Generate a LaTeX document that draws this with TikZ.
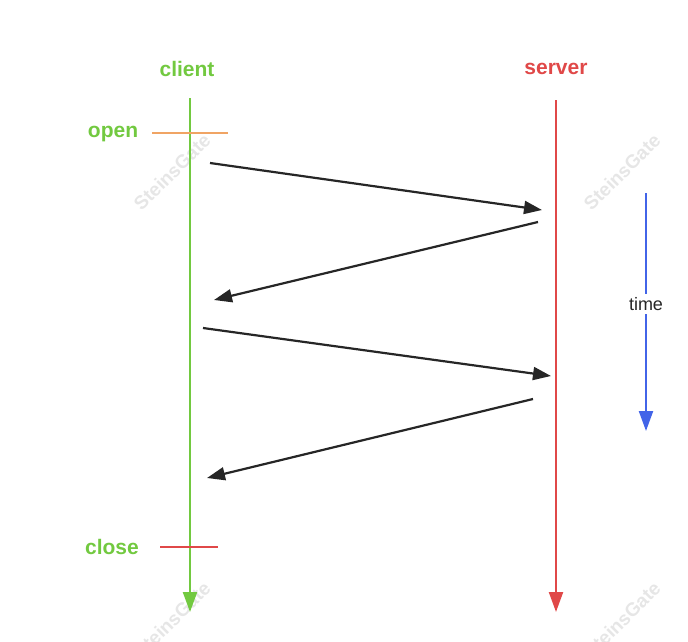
\documentclass[tikz,border=0pt]{standalone}
\usepackage{fontspec}
\setmainfont{Liberation Sans}
\usetikzlibrary{arrows.meta}
\definecolor{cgreen}{RGB}{114,201,64}
\definecolor{cred}{RGB}{224,72,72}
\definecolor{corange}{RGB}{240,164,100}
\definecolor{cblue}{RGB}{66,100,232}
\definecolor{cdark}{RGB}{38,38,38}
\definecolor{wm}{RGB}{230,230,230}
\tikzset{
  lbl/.style={font=\fontsize{21}{24}\selectfont\bfseries, inner sep=0pt},
  life/.style={line width=2.2pt, -{Triangle[length=20pt,width=14pt]}},
  msg/.style={cdark, line width=2.2pt, -{Triangle[length=18pt,width=13pt]}},
  tick/.style={line width=2.2pt},
  mark wm/.style={wm, rotate=45, font=\fontsize{19}{22}\selectfont\bfseries, inner sep=0pt}
}
\begin{document}
\begin{tikzpicture}[x=1pt,y=-1pt]
\useasboundingbox (0,0) rectangle (688,642);
% watermarks
\node[mark wm] (w1) at (172,172) {SteinsGate};
\node[mark wm] (w2) at (622,172) {SteinsGate};
\node[mark wm] (w3) at (172,620) {SteinsGate};
\node[mark wm] (w4) at (622,620) {SteinsGate};
% labels
\node[lbl, text=cgreen] (client) at (187,69) {client};
\node[lbl, text=cred] (server) at (556,69) {server};
\node[lbl, text=cgreen] (open) at (113,134) {open};
\node[lbl, text=cgreen] (close) at (112,547) {close};
% lifelines
\coordinate (cTop) at (190,98);
\coordinate (cBot) at (190,612);
\coordinate (sTop) at (556,100);
\coordinate (sBot) at (556,612);
\draw[life, cgreen] (cTop) -- (cBot);
\draw[life, cred] (sTop) -- (sBot);
% ticks
\coordinate (oA) at (152,133);
\coordinate (oB) at (228,133);
\coordinate (xA) at (160,547);
\coordinate (xB) at (218,547);
\draw[tick, corange] (oA) -- (oB);
\draw[tick, cred] (xA) -- (xB);
% messages
\coordinate (m1a) at (210,163);
\coordinate (m1b) at (542,210);
\coordinate (m2a) at (538,222);
\coordinate (m2b) at (214,300);
\coordinate (m3a) at (203,328);
\coordinate (m3b) at (551,376);
\coordinate (m4a) at (533,399);
\coordinate (m4b) at (207,478);
\draw[msg] (m1a) -- (m1b);
\draw[msg] (m2a) -- (m2b);
\draw[msg] (m3a) -- (m3b);
\draw[msg] (m4a) -- (m4b);
% time axis
\coordinate (tTop) at (646,193);
\coordinate (tBot) at (646,431);
\draw[life, cblue] (tTop) -- (tBot);
\node[fill=white, text=cdark, font=\fontsize{18}{21}\selectfont, inner sep=3pt] (time) at (646,304) {time};
\end{tikzpicture}
\end{document}
